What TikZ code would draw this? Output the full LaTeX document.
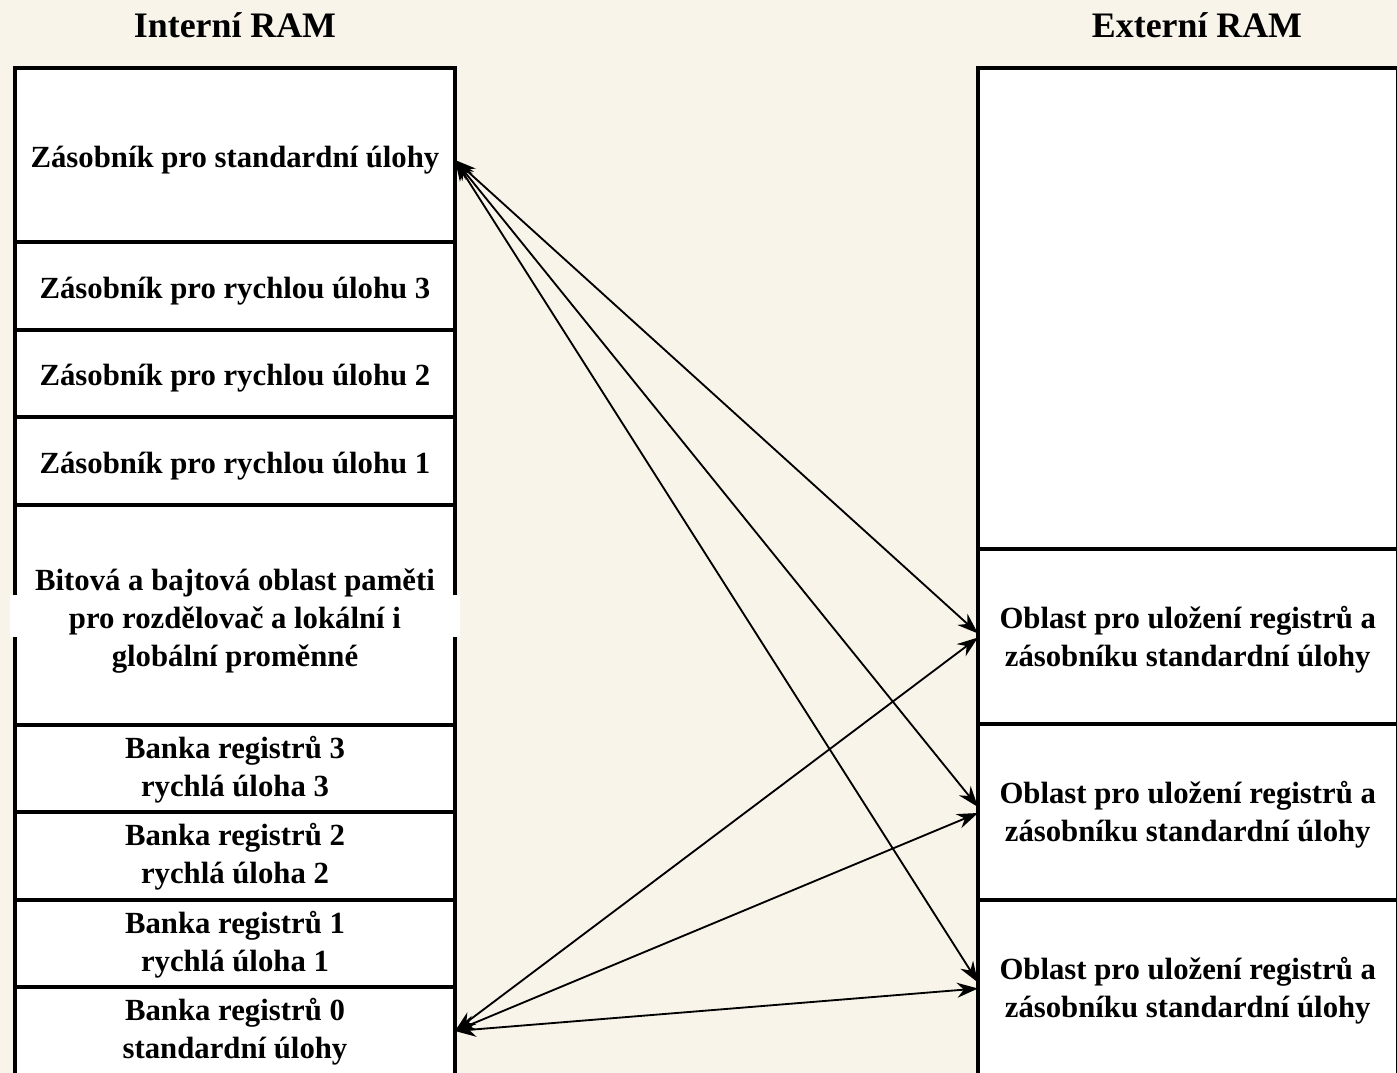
\documentclass[tikz,border=0pt]{standalone}
\usepackage{fontspec}
\setmainfont{Liberation Serif}
\usetikzlibrary{arrows.meta}
\definecolor{paper}{HTML}{F8F4EA}
\begin{document}
\begin{tikzpicture}[
  box/.style={draw, line width=2.1pt, fill=white, inner sep=0pt, outer sep=0pt},
  txt/.style={inner sep=0pt, align=center, font=\fontsize{17.5}{21.5}\selectfont\bfseries},
  title/.style={font=\fontsize{20.4}{24}\selectfont\bfseries},
  link/.style={{Stealth[length=0.42cm,width=0.30cm]}-{Stealth[length=0.42cm,width=0.30cm]}, line width=1.05pt}]
\useasboundingbox[fill=paper] (0,0) rectangle (27.94,-21.46);
\node[title] (T_L) at (4.70,-0.50) {Interní RAM};
\node[title] (T_R) at (23.94,-0.50) {Externí RAM};
% interni RAM
\node[box, minimum width=8.80cm, minimum height=3.48cm] (L_0) at (4.70,-3.10) {};
\node[box, minimum width=8.80cm, minimum height=1.76cm] (L_1) at (4.70,-5.72) {};
\node[box, minimum width=8.80cm, minimum height=1.74cm] (L_2) at (4.70,-7.47) {};
\node[box, minimum width=8.80cm, minimum height=1.76cm] (L_3) at (4.70,-9.22) {};
\node[box, minimum width=8.80cm, minimum height=4.40cm] (L_4) at (4.70,-12.30) {};
\fill[white] (0.20,-11.90) rectangle (0.42,-12.74);
\fill[white] (8.98,-11.90) rectangle (9.20,-12.74);
\node[box, minimum width=8.80cm, minimum height=1.74cm] (L_5) at (4.70,-15.37) {};
\node[box, minimum width=8.80cm, minimum height=1.76cm] (L_6) at (4.70,-17.12) {};
\node[box, minimum width=8.80cm, minimum height=1.74cm] (L_7) at (4.70,-18.87) {};
\node[box, minimum width=8.80cm, minimum height=1.76cm] (L_8) at (4.70,-20.62) {};
\node[txt] (L_0t) at ([yshift=-0.11cm]L_0.center) {Zásobník pro standardní úlohy};
\node[txt] (L_1t) at ([yshift=-0.10cm]L_1.center) {Zásobník pro rychlou úlohu 3};
\node[txt] (L_2t) at ([yshift=-0.10cm]L_2.center) {Zásobník pro rychlou úlohu 2};
\node[txt] (L_3t) at ([yshift=-0.10cm]L_3.center) {Zásobník pro rychlou úlohu 1};
\node[txt] (L_4t) at ([yshift=-0.12cm]L_4.center) {Bitová a bajtová oblast paměti\\pro rozdělovač a lokální i\\globální proměnné};
\node[txt] (L_5t) at ([yshift=-0.02cm]L_5.center) {Banka registrů 3\\rychlá úloha 3};
\node[txt] (L_6t) at ([yshift=-0.02cm]L_6.center) {Banka registrů 2\\rychlá úloha 2};
\node[txt] (L_7t) at ([yshift=-0.02cm]L_7.center) {Banka registrů 1\\rychlá úloha 1};
\node[txt] (L_8t) at ([yshift=-0.02cm]L_8.center) {Banka registrů 0\\standardní úlohy};
% externi RAM
\node[box, minimum width=8.39cm, minimum height=9.62cm] (R_0) at (23.755,-6.17) {};
\node[box, minimum width=8.39cm, minimum height=3.50cm] (R_1) at (23.755,-12.73) {};
\node[box, minimum width=8.39cm, minimum height=3.52cm] (R_2) at (23.755,-16.24) {};
\node[box, minimum width=8.39cm, minimum height=3.50cm] (R_3) at (23.755,-19.75) {};
\node[txt] (R_1t) at ([yshift=-0.06cm]R_1.center) {Oblast pro uložení registrů a\\zásobníku standardní úlohy};
\node[txt] (R_2t) at ([yshift=-0.06cm]R_2.center) {Oblast pro uložení registrů a\\zásobníku standardní úlohy};
\node[txt] (R_3t) at ([yshift=-0.06cm]R_3.center) {Oblast pro uložení registrů a\\zásobníku standardní úlohy};
% presuny
\draw[link] ([yshift=-0.10cm]L_0.east) -- ([yshift=0.06cm]R_1.west);
\draw[link] ([yshift=-0.10cm]L_0.east) -- ([yshift=0.10cm]R_2.west);
\draw[link] ([yshift=-0.10cm]L_0.east) -- ([yshift=0.10cm]R_3.west);
\draw[link] (L_8.east) -- ([yshift=-0.02cm]R_1.west);
\draw[link] (L_8.east) -- ([yshift=-0.02cm]R_2.west);
\draw[link] (L_8.east) -- ([yshift=-0.02cm]R_3.west);
\end{tikzpicture}
\end{document}
